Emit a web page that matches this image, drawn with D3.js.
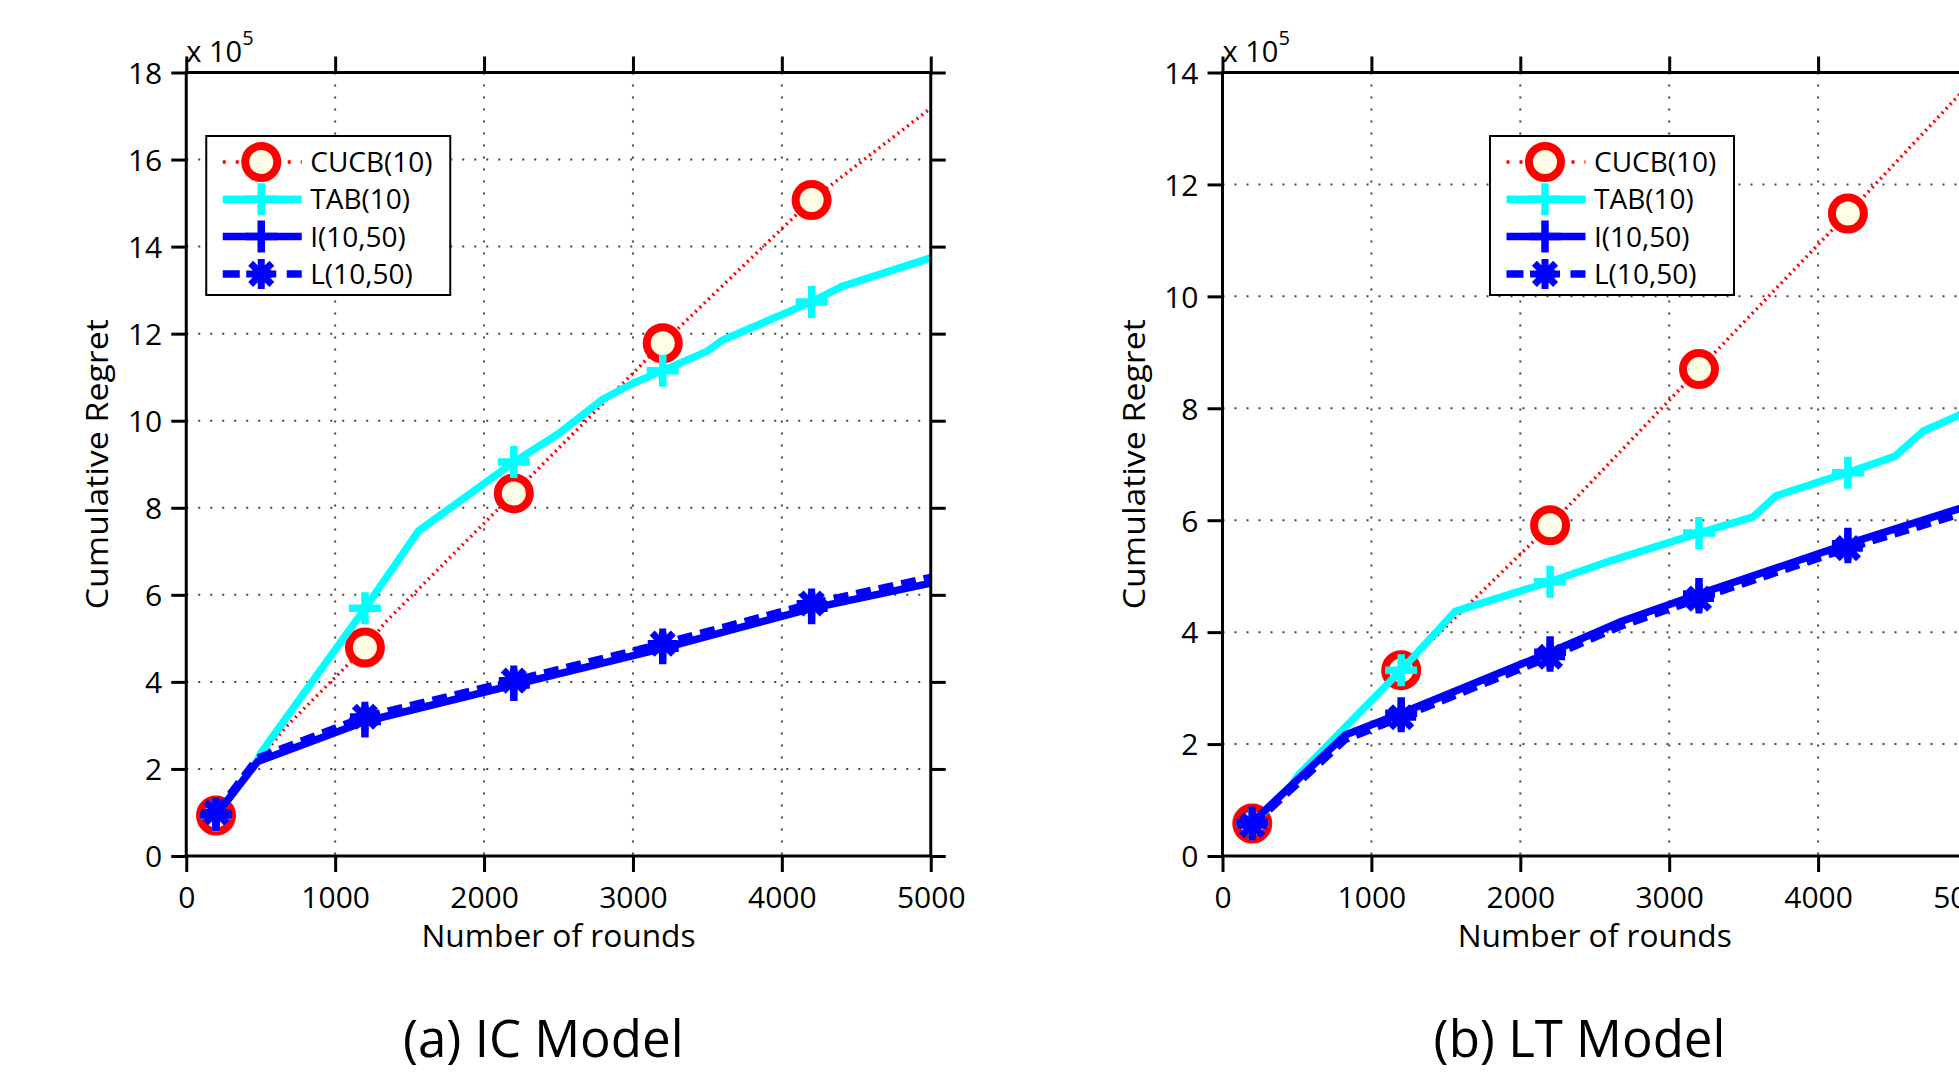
<!DOCTYPE html>
<html>
<head>
<meta charset="utf-8">
<script src="https://cdn.jsdelivr.net/npm/d3@7"></script>
<style>
  body { margin: 0; background: #fff; }
  text { font-family: "Open Sans", "DejaVu Sans", sans-serif; fill: #000; }
</style>
</head>
<body>
<div id="chart"></div>
<script>
// x ticks / y ticks
const roundTicks = [0, 1000, 2000, 3000, 4000, 5000];
const icRegretTicks = [0, 2, 4, 6, 8, 10, 12, 14, 16, 18];
const ltRegretTicks = [0, 2, 4, 6, 8, 10, 12, 14];
const markerRounds = [200, 1200, 2200, 3200, 4200];
const seriesNames = ["CUCB(10)", "TAB(10)", "I(10,50)", "L(10,50)"];

// IC model, regret in units of 1e5
const icCUCB = [[200,0.93],[480,2.17],[670,2.97],[1200,4.79],[1340,5.38],[2200,8.33],[3200,11.78],[4200,15.07],[5000,17.18]];
const icTAB  = [[200,0.93],[480,2.2],[500,2.36],[1200,5.69],[1560,7.47],[2200,9.05],[2500,9.7],[2800,10.5],[3000,10.86],[3200,11.15],[3500,11.6],[3600,11.85],[4200,12.73],[4400,13.08],[5000,13.74]];
const icI    = [[200,0.94],[480,2.17],[1200,3.09],[2200,3.93],[3200,4.77],[4200,5.69],[5000,6.27]];
const icL    = [[200,1.0],[480,2.25],[1200,3.2],[2200,4.03],[3200,4.88],[4200,5.8],[5000,6.4]];

// LT model
const ltCUCB = [[200,0.58],[1200,3.32],[2200,5.91],[3200,8.7],[4200,11.48],[5000,13.75]];
const ltTAB  = [[200,0.58],[466,1.27],[511,1.45],[1200,3.32],[1562,4.37],[2200,4.9],[2600,5.27],[3200,5.77],[3564,6.06],[3720,6.44],[4200,6.85],[4515,7.14],[4705,7.59],[4940,7.87],[5000,7.95]];
const ltI    = [[200,0.6],[466,1.27],[824,2.16],[1200,2.55],[2200,3.64],[2667,4.18],[3200,4.68],[4200,5.58],[5000,6.25]];
const ltL    = [[200,0.55],[466,1.2],[824,2.08],[1200,2.48],[2200,3.56],[2667,4.1],[3200,4.6],[4200,5.5],[5000,6.15]];

const W = 1959, H = 1074;
const plotW = 744.5, plotH = 783.5, plotTop = 72.5;

// line + marker styles, in legend order
const styles = [
  {color: "#ff0000", width: 3.5, dash: "2,4", marker: "circle"},
  {color: "#00ffff", width: 7.5, dash: null, marker: "plus"},
  {color: "#0000ff", width: 7.5, dash: null, marker: "plus"},
  {color: "#0000ff", width: 7.5, dash: "15,8", marker: "star"}
];

const svg = d3.select("#chart")
  .append("svg")
  .attr("width", W)
  .attr("height", H);

function drawMarker(g, type, color) {
  if (type === "circle") {
    g.append("circle")
      .attr("r", 16)
      .attr("fill", "#fffde3")
      .attr("stroke", color)
      .attr("stroke-width", 8);
  } else if (type === "plus") {
    g.append("path")
      .attr("d", "M-16,0H16M0,-16V16")
      .attr("stroke", color)
      .attr("stroke-width", 7.5)
      .attr("fill", "none");
  } else {
    const a = 15, b = 10.6;
    g.append("path")
      .attr("d", `M${-a},0H${a}M0,${-a}V${a}M${-b},${-b}L${b},${b}M${-b},${b}L${b},${-b}`)
      .attr("stroke", color)
      .attr("stroke-width", 7)
      .attr("fill", "none");
  }
}

function drawPanel(left, yMax, yTicks, series, legendX, caption) {
  const x = d3.scaleLinear().domain([0, 5000]).range([0, plotW]);
  const y = d3.scaleLinear().domain([0, yMax]).range([plotH, 0]);

  const g = svg.append("g").attr("transform", `translate(${left},${plotTop})`);

  //grid
  g.append("g").selectAll("line.vg").data(roundTicks.slice(1, -1))
    .enter().append("line")
      .attr("x1", d => x(d)).attr("x2", d => x(d))
      .attr("y1", 0).attr("y2", plotH)
      .attr("stroke", "#444").attr("stroke-width", 2)
      .attr("stroke-dasharray", "2,10");
  g.append("g").selectAll("line.hg").data(yTicks.slice(1, -1))
    .enter().append("line")
      .attr("x1", 0).attr("x2", plotW)
      .attr("y1", d => y(d)).attr("y2", d => y(d))
      .attr("stroke", "#444").attr("stroke-width", 2)
      .attr("stroke-dasharray", "2,10");

  const line = d3.line().x(d => x(d[0])).y(d => y(d[1]));

  //lines with markers, in order
  series.forEach((s, i) => {
    const st = styles[i];
    g.append("path")
      .datum(s)
      .attr("d", line)
      .attr("fill", "none")
      .attr("stroke", st.color)
      .attr("stroke-width", st.width)
      .attr("stroke-linejoin", "round")
      .attr("stroke-dasharray", st.dash);
    s.filter(d => markerRounds.includes(d[0])).forEach(d => {
      const m = g.append("g").attr("transform", `translate(${x(d[0])},${y(d[1])})`);
      drawMarker(m, st.marker, st.color);
    });
  });

  //axes
  const fmt = d3.format("d");
  const axB = g.append("g").attr("transform", `translate(0,${plotH})`)
    .call(d3.axisBottom(x).tickValues(roundTicks).tickFormat(fmt).tickSize(16).tickSizeOuter(0).tickPadding(15));
  const axT = g.append("g")
    .call(d3.axisTop(x).tickValues(roundTicks).tickFormat("").tickSize(16).tickSizeOuter(0));
  const axL = g.append("g")
    .call(d3.axisLeft(y).tickValues(yTicks).tickFormat(fmt).tickSize(15).tickSizeOuter(0).tickPadding(9));
  const axR = g.append("g").attr("transform", `translate(${plotW},0)`)
    .call(d3.axisRight(y).tickValues(yTicks).tickFormat("").tickSize(15).tickSizeOuter(0));
  [axB, axT, axL, axR].forEach(a => {
    a.select(".domain").remove();
    a.selectAll(".tick line").attr("stroke", "#000").attr("stroke-width", 3);
    a.selectAll("text").attr("font-size", 30).attr("font-family", "Open Sans").attr("fill", "#000");
  });
  axL.selectAll("text").attr("dy", "0.36em");

  g.append("rect")
    .attr("width", plotW).attr("height", plotH)
    .attr("fill", "none").attr("stroke", "#000").attr("stroke-width", 3);

  //exponent
  const ex = g.append("text").attr("x", 0).attr("y", -11).attr("font-size", 29);
  ex.append("tspan").text("x 10");
  ex.append("tspan").attr("dy", -17).attr("font-size", 20).text("5");

  //axis labels
  g.append("text")
    .attr("transform", `translate(-89,${plotH / 2}) rotate(-90)`)
    .attr("text-anchor", "middle").attr("dy", "0.36em")
    .attr("font-size", 31).attr("textLength", 290).attr("lengthAdjust", "spacingAndGlyphs")
    .text("Cumulative Regret");
  g.append("text")
    .attr("x", plotW / 2).attr("y", 874)
    .attr("text-anchor", "middle")
    .attr("font-size", 31).attr("textLength", 274).attr("lengthAdjust", "spacingAndGlyphs")
    .text("Number of rounds");

  //caption
  g.append("text")
    .attr("x", 357).attr("y", 984)
    .attr("text-anchor", "middle")
    .attr("font-size", 51)
    .text(caption);

  //legend
  const lg = g.append("g").attr("transform", `translate(${legendX},63.5)`);
  lg.append("rect")
    .attr("width", 244).attr("height", 159)
    .attr("fill", "#fff").attr("stroke", "#000").attr("stroke-width", 2);
  seriesNames.forEach((name, i) => {
    const st = styles[i];
    const ry = 26 + i * 37.3;
    lg.append("line")
      .attr("x1", 16.5).attr("x2", 95.5).attr("y1", ry).attr("y2", ry)
      .attr("stroke", st.color).attr("stroke-width", st.width)
      .attr("stroke-dasharray", st.dash === "15,8" ? "17,15" : (st.dash ? "3,10" : null));
    const m = lg.append("g").attr("transform", `translate(55,${ry})`);
    drawMarker(m, st.marker, st.color);
    lg.append("text")
      .attr("x", 104).attr("y", ry).attr("dy", "0.36em")
      .attr("font-size", 28)
      .text(name);
  });
}

drawPanel(186.25, 18, icRegretTicks, [icCUCB, icTAB, icI, icL], 20, "(a) IC Model");
drawPanel(1222.5, 14, ltRegretTicks, [ltCUCB, ltTAB, ltI, ltL], 267.5, "(b) LT Model");
</script>
</body>
</html>
